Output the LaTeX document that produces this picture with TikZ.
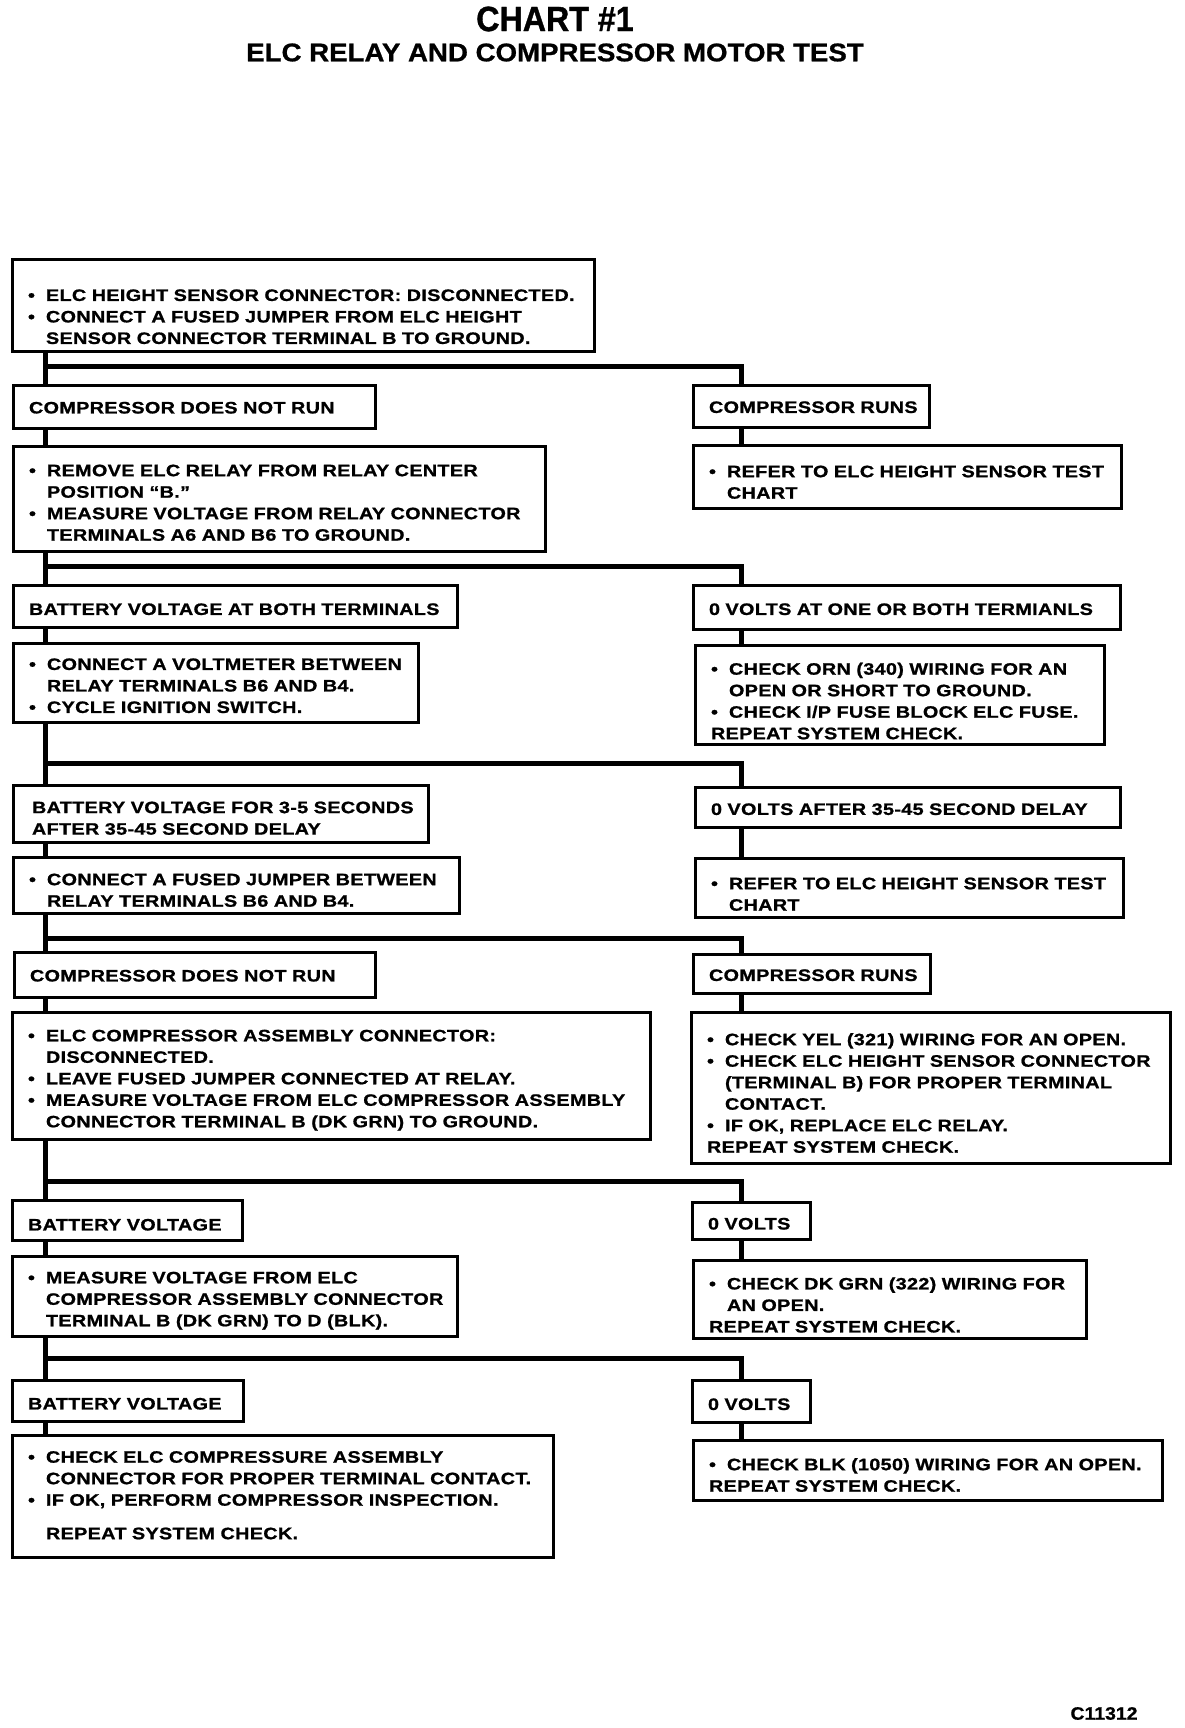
\documentclass[tikz,border=0pt]{standalone}
\usepackage{fontspec}
\setmainfont{Liberation Sans}
\newfontfamily\chartfont[FakeStretch=1.2,LetterSpace=2,FakeBold=1]{Liberation Sans}
\newfontfamily\titlefont[FakeStretch=0.92,FakeBold=1]{Liberation Sans}
\newfontfamily\subtitlefont[FakeStretch=1.08,FakeBold=0.8]{Liberation Sans}

% lineas de texto de las cajas (no se cortan)
\newcommand{\bul}[1]{\makebox[18pt][l]{\textbullet}\mbox{#1}}
\newcommand{\ind}[1]{\hspace*{18pt}\mbox{#1}}
\newcommand{\chartline}[1]{\mbox{#1}}

\tikzset{
  chartbox/.style={draw, line width=3pt, fill=white, anchor=north west, outer sep=0pt,
    inner xsep=16pt, inner ysep=2pt, align=left, text height=18pt,
    font=\chartfont\bfseries\fontsize{16.5}{21.5}\selectfont},
  wire/.style={line width=5pt},
}

\begin{document}
\begin{tikzpicture}[x=1pt, y=-1pt]
  \useasboundingbox (0,0) rectangle (1184,1728);

  % --- titulo ---
  \node[font=\titlefont\bfseries\fontsize{35}{35}\selectfont] (title) at (555,19) {CHART \#1};
  \node[font=\subtitlefont\bfseries\fontsize{25.6}{26}\selectfont] (subtitle) at (555,52.5) {ELC RELAY AND COMPRESSOR MOTOR TEST};

  % --- ejes de conexion ---
  \coordinate (tr) at (45,0);   % tronco izquierdo
  \coordinate (dr) at (741,0);  % bajada derecha
  \coordinate (j1) at (45,366);
  \coordinate (j2) at (45,566);
  \coordinate (j3) at (45,763);
  \coordinate (j4) at (45,938);
  \coordinate (j5) at (45,1181);
  \coordinate (j6) at (45,1358);

  % --- paso 1 ---
  \node[chartbox, text width=550pt, minimum height=91pt, text height=34pt] (sensor) at (12,260)
    {\bul{ELC HEIGHT SENSOR CONNECTOR: DISCONNECTED.}\\
     \bul{CONNECT A FUSED JUMPER FROM ELC HEIGHT}\\
     \ind{SENSOR CONNECTOR TERMINAL B TO GROUND.}};
  \node[chartbox, text width=330pt, minimum height=43pt, text height=14pt] (norun1) at (13,385) {\chartline{COMPRESSOR DOES NOT RUN}};
  \node[chartbox, text width=204pt, minimum height=42pt, text height=14pt] (runs1) at (693,385) {\chartline{COMPRESSOR RUNS}};
  \node[chartbox, text width=500pt, minimum height=105pt, text height=20pt] (relay) at (13,446)
    {\bul{REMOVE ELC RELAY FROM RELAY CENTER}\\
     \ind{POSITION “B.”}\\
     \bul{MEASURE VOLTAGE FROM RELAY CONNECTOR}\\
     \ind{TERMINALS A6 AND B6 TO GROUND.}};
  \node[chartbox, text width=396pt, minimum height=63pt, text height=23pt] (refer1) at (693,445)
    {\bul{REFER TO ELC HEIGHT SENSOR TEST}\\
     \ind{CHART}};

  % --- paso 2 ---
  \node[chartbox, text width=412pt, minimum height=42pt] (batt1) at (13,585) {\chartline{BATTERY VOLTAGE AT BOTH TERMINALS}};
  \node[chartbox, text width=395pt, minimum height=44pt, text height=16pt] (zero1) at (693,585) {\chartline{0 VOLTS AT ONE OR BOTH TERMIANLS}};
  \node[chartbox, text width=373pt, minimum height=79pt] (voltm) at (13,643)
    {\bul{CONNECT A VOLTMETER BETWEEN}\\
     \ind{RELAY TERMINALS B6 AND B4.}\\
     \bul{CYCLE IGNITION SWITCH.}};
  \node[chartbox, text width=377pt, minimum height=99pt, text height=25pt] (orn) at (695,645)
    {\bul{CHECK ORN (340) WIRING FOR AN}\\
     \ind{OPEN OR SHORT TO GROUND.}\\
     \bul{CHECK I/P FUSE BLOCK ELC FUSE.}\\
     \chartline{REPEAT SYSTEM CHECK.}};

  % --- paso 3 ---
  \node[chartbox, inner xsep=19pt, text width=377pt, minimum height=57pt, text height=21pt] (batt2) at (13,785)
    {\chartline{BATTERY VOLTAGE FOR 3-5 SECONDS}\\
     \chartline{AFTER 35-45 SECOND DELAY}};
  \node[chartbox, text width=393pt, minimum height=40pt, text height=16pt] (zero2) at (695,787) {\chartline{0 VOLTS AFTER 35-45 SECOND DELAY}};
  \node[chartbox, text width=414pt, minimum height=56pt, text height=22pt] (jumper) at (13,857)
    {\bul{CONNECT A FUSED JUMPER BETWEEN}\\
     \ind{RELAY TERMINALS B6 AND B4.}};
  \node[chartbox, text width=396pt, minimum height=59pt, text height=25pt] (refer2) at (695,858)
    {\bul{REFER TO ELC HEIGHT SENSOR TEST}\\
     \ind{CHART}};

  % --- paso 4 ---
  \node[chartbox, text width=329pt, minimum height=45pt, text height=14pt] (norun2) at (14,952) {\chartline{COMPRESSOR DOES NOT RUN}};
  \node[chartbox, text width=205pt, minimum height=39pt, text height=15pt] (runs2) at (693,954) {\chartline{COMPRESSOR RUNS}};
  \node[chartbox, text width=606pt, minimum height=127pt, text height=21pt] (comp) at (12,1012)
    {\bul{ELC COMPRESSOR ASSEMBLY CONNECTOR:}\\
     \ind{DISCONNECTED.}\\
     \bul{LEAVE FUSED JUMPER CONNECTED AT RELAY.}\\
     \bul{MEASURE VOLTAGE FROM ELC COMPRESSOR ASSEMBLY}\\
     \ind{CONNECTOR TERMINAL B (DK GRN) TO GROUND.}};
  \node[chartbox, text width=447pt, minimum height=151pt, text height=23pt] (yel) at (691,1012)
    {\bul{CHECK YEL (321) WIRING FOR AN OPEN.}\\
     \bul{CHECK ELC HEIGHT SENSOR CONNECTOR}\\
     \ind{(TERMINAL B) FOR PROPER TERMINAL}\\
     \ind{CONTACT.}\\
     \bul{IF OK, REPLACE ELC RELAY.}\\
     \chartline{REPEAT SYSTEM CHECK.}};

  % --- paso 5 ---
  \node[chartbox, text width=198pt, minimum height=40pt, text height=21pt] (batt3) at (12,1200) {\chartline{BATTERY VOLTAGE}};
  \node[chartbox, text width=86pt, minimum height=37pt] (zero3) at (692,1202) {\chartline{0 VOLTS}};
  \node[chartbox, text width=413pt, minimum height=80pt, text height=21pt] (measure) at (12,1256)
    {\bul{MEASURE VOLTAGE FROM ELC}\\
     \ind{COMPRESSOR ASSEMBLY CONNECTOR}\\
     \ind{TERMINAL B (DK GRN) TO D (BLK).}};
  \node[chartbox, text width=361pt, minimum height=78pt, text height=24pt] (dkgrn) at (693,1260)
    {\bul{CHECK DK GRN (322) WIRING FOR}\\
     \ind{AN OPEN.}\\
     \chartline{REPEAT SYSTEM CHECK.}};

  % --- paso 6 ---
  \node[chartbox, text width=199pt, minimum height=41pt] (batt4) at (12,1380) {\chartline{BATTERY VOLTAGE}};
  \node[chartbox, text width=86pt, minimum height=42pt] (zero4) at (692,1380) {\chartline{0 VOLTS}};
  \node[chartbox, text width=509pt, minimum height=122pt, text height=10pt] (inspect) at (12,1435)
    {\bul{CHECK ELC COMPRESSURE ASSEMBLY}\\
     \ind{CONNECTOR FOR PROPER TERMINAL CONTACT.}\\
     \bul{IF OK, PERFORM COMPRESSOR INSPECTION.}\\[12pt]
     \ind{REPEAT SYSTEM CHECK.}};
  \node[chartbox, text width=437pt, minimum height=60pt, text height=22pt] (blk) at (693,1440)
    {\bul{CHECK BLK (1050) WIRING FOR AN OPEN.}\\
     \chartline{REPEAT SYSTEM CHECK.}};

  \node[font=\subtitlefont\bfseries\fontsize{18}{18}\selectfont] (code) at (1104,1713.5) {C11312};

  % --- tronco izquierdo ---
  \draw[wire] (sensor.south -| tr) -- (norun1.north -| tr);
  \draw[wire] (norun1.south -| tr) -- (relay.north -| tr);
  \draw[wire] (relay.south -| tr) -- (batt1.north -| tr);
  \draw[wire] (batt1.south -| tr) -- (voltm.north -| tr);
  \draw[wire] (voltm.south -| tr) -- (batt2.north -| tr);
  \draw[wire] (batt2.south -| tr) -- (jumper.north -| tr);
  \draw[wire] (jumper.south -| tr) -- (norun2.north -| tr);
  \draw[wire] (norun2.south -| tr) -- (comp.north -| tr);
  \draw[wire] (comp.south -| tr) -- (batt3.north -| tr);
  \draw[wire] (batt3.south -| tr) -- (measure.north -| tr);
  \draw[wire] (measure.south -| tr) -- (batt4.north -| tr);
  \draw[wire] (batt4.south -| tr) -- (inspect.north -| tr);

  % --- ramas derechas ---
  \draw[wire] (j1) -| (runs1.north -| dr);
  \draw[wire] (runs1.south -| dr) -- (refer1.north -| dr);
  \draw[wire] (j2) -| (zero1.north -| dr);
  \draw[wire] (zero1.south -| dr) -- (orn.north -| dr);
  \draw[wire] (j3) -| (zero2.north -| dr);
  \draw[wire] (zero2.south -| dr) -- (refer2.north -| dr);
  \draw[wire] (j4) -| (runs2.north -| dr);
  \draw[wire] (runs2.south -| dr) -- (yel.north -| dr);
  \draw[wire] (j5) -| (zero3.north -| dr);
  \draw[wire] (zero3.south -| dr) -- (dkgrn.north -| dr);
  \draw[wire] (j6) -| (zero4.north -| dr);
  \draw[wire] (zero4.south -| dr) -- (blk.north -| dr);

\end{tikzpicture}
\end{document}
